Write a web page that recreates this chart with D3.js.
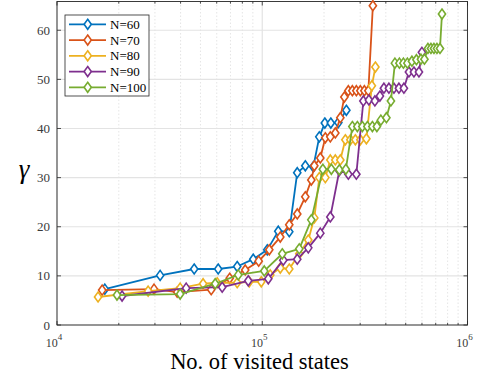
<!DOCTYPE html>
<html>
<head>
<meta charset="utf-8">
<script src="https://cdn.jsdelivr.net/npm/d3@7"></script>
<style>
  html, body { margin: 0; padding: 0; background: #fff; }
  svg { display: block; }
</style>
</head>
<body>
<svg id="chart" width="479" height="379"></svg>
<script>
// Visited states (x) and gamma (y) for each problem size N
const seriesNames = ["N=60", "N=70", "N=80", "N=90", "N=100"];
const seriesColors = ["#0072BD", "#D95319", "#EDB120", "#7E2F8E", "#77AC30"];

const statesN60 = [17100, 31800, 46600, 61000, 75500, 90400, 105800, 119700, 135400, 148100, 162100, 177300, 189700, 201800, 215800, 234800, 256900];
const gammaN60  = [7.3, 10.1, 11.4, 11.4, 11.9, 13.4, 15.3, 19.1, 19.0, 31.0, 32.4, 32.2, 38.3, 41.1, 41.1, 41.2, 43.7];

const statesN70 = [16600, 29700, 38500, 56400, 69400, 82600, 96100, 108200, 122400, 135400, 148100, 162100, 173400, 179300, 191800, 202900, 214600, 227000, 240100, 251200, 262700, 274800, 287400, 300600, 314500, 328900, 345900];
const gammaN70  = [7.1, 7.3, 6.7, 7.2, 9.5, 11.2, 13.0, 15.3, 17.9, 20.4, 22.6, 26.1, 29.5, 32.4, 34.0, 38.1, 38.3, 39.1, 42.2, 46.4, 47.7, 47.7, 47.7, 47.7, 47.7, 47.7, 65.0];

const statesN80 = [15850, 27800, 39800, 51500, 60300, 75500, 86400, 98900, 109400, 122400, 135400, 151500, 167600, 179300, 189700, 202900, 214600, 227000, 240100, 254000, 268700, 284200, 300600, 321600, 342000, 355800];
const gammaN80  = [5.7, 6.9, 7.5, 8.4, 8.6, 8.6, 8.8, 8.8, 10.2, 11.6, 11.4, 14.5, 17.3, 21.8, 30.0, 30.0, 33.6, 33.6, 33.6, 37.7, 37.7, 37.7, 37.7, 37.9, 48.7, 52.5];

const statesN90 = [20750, 42600, 63800, 85500, 107000, 126600, 148100, 167600, 191800, 214600, 237400, 262700, 287400, 310900, 330700, 353800, 374300, 391500, 414100, 438100, 463300, 489900, 518300, 548300, 580000, 599800];
const gammaN90  = [5.9, 7.5, 7.7, 9.0, 9.4, 13.2, 13.4, 15.7, 18.7, 22.0, 31.4, 30.7, 30.7, 45.6, 45.8, 45.6, 46.6, 48.2, 48.2, 48.2, 48.2, 48.2, 51.5, 51.5, 51.5, 55.5];

const statesN100 = [19600, 39800, 59000, 76400, 102300, 125200, 151500, 173400, 197300, 217100, 237400, 255400, 274800, 290600, 307400, 325200, 344000, 361800, 378400, 402600, 423500, 443000, 465900, 487300, 509600, 536100, 563900, 593200, 616900, 641700, 663700, 686500, 710000, 734400, 751000];
const gammaN100  = [6.1, 6.3, 8.4, 10.2, 11.0, 14.5, 15.5, 21.4, 31.7, 31.7, 31.6, 31.7, 40.4, 40.4, 40.4, 40.4, 40.4, 40.4, 41.7, 42.2, 45.6, 53.3, 53.3, 53.3, 53.3, 53.7, 54.0, 54.1, 54.1, 56.3, 56.3, 56.3, 56.3, 56.3, 63.3];

const xTickExponents = [4, 5, 6];
const yTickValues = [0, 10, 20, 30, 40, 50, 60];

const seriesStates = [statesN60, statesN70, statesN80, statesN90, statesN100];
const seriesGamma  = [gammaN60, gammaN70, gammaN80, gammaN90, gammaN100];

(function draw() {
  const series = seriesNames.map((name, i) => ({
    name,
    color: seriesColors[i],
    points: seriesStates[i].map((s, j) => ({ s, g: seriesGamma[i][j] }))
  }));

  const svg = d3.select("#chart");
  const plotLeft = 57, plotRight = 467.5, plotTop = 1.5, plotBottom = 325;

  const x = d3.scaleLog().domain([1e4, 1e6]).range([plotLeft, plotRight]);
  const y = d3.scaleLinear().domain([0, 65.85]).range([plotBottom, plotTop]);

  const serif = "'Liberation Serif', 'Times New Roman', serif";
  const axisColor = "#262626";

  // Minor grid on the log axis (dotted)
  const minorX = [];
  for (let d = 1e4; d < 1e6; d *= 10) {
    for (let m = 2; m <= 9; m++) minorX.push(d * m);
  }
  svg.append("g").selectAll("line").data(minorX).join("line")
    .attr("x1", d => x(d)).attr("x2", d => x(d))
    .attr("y1", plotTop).attr("y2", plotBottom)
    .attr("stroke", "#dedede").attr("stroke-width", 0.8)
    .attr("stroke-dasharray", "1.5,2");

  // Major grid
  svg.append("g").selectAll("line").data(yTickValues).join("line")
    .attr("x1", plotLeft).attr("x2", plotRight)
    .attr("y1", d => y(d)).attr("y2", d => y(d))
    .attr("stroke", "#e3e3e3").attr("stroke-width", 1.2);
  svg.append("g").selectAll("line").data(xTickExponents).join("line")
    .attr("x1", d => x(Math.pow(10, d))).attr("x2", d => x(Math.pow(10, d)))
    .attr("y1", plotTop).attr("y2", plotBottom)
    .attr("stroke", "#e3e3e3").attr("stroke-width", 1.2);

  // Axes box with inward ticks on all sides
  const tickG = svg.append("g").attr("stroke", axisColor).attr("stroke-width", 0.8);
  yTickValues.forEach(v => {
    tickG.append("line").attr("x1", plotLeft).attr("x2", plotLeft + 4).attr("y1", y(v)).attr("y2", y(v));
    tickG.append("line").attr("x1", plotRight).attr("x2", plotRight - 4).attr("y1", y(v)).attr("y2", y(v));
  });
  xTickExponents.forEach(e => {
    const px = x(Math.pow(10, e));
    tickG.append("line").attr("x1", px).attr("x2", px).attr("y1", plotBottom).attr("y2", plotBottom - 4);
    tickG.append("line").attr("x1", px).attr("x2", px).attr("y1", plotTop).attr("y2", plotTop + 4);
  });
  minorX.forEach(v => {
    const px = x(v);
    tickG.append("line").attr("x1", px).attr("x2", px).attr("y1", plotBottom).attr("y2", plotBottom - 2.2);
    tickG.append("line").attr("x1", px).attr("x2", px).attr("y1", plotTop).attr("y2", plotTop + 2.2);
  });
  svg.append("rect")
    .attr("x", plotLeft).attr("y", plotTop)
    .attr("width", plotRight - plotLeft).attr("height", plotBottom - plotTop)
    .attr("fill", "none").attr("stroke", axisColor).attr("stroke-width", 0.9);

  // Tick labels
  svg.append("g").selectAll("text").data(yTickValues).join("text")
    .attr("x", plotLeft - 7).attr("y", d => y(d))
    .attr("dy", "0.35em")
    .attr("text-anchor", "end")
    .attr("font-family", serif).attr("font-size", 13)
    .attr("fill", "#3a3a3a")
    .text(d => d);

  const xl = svg.append("g").selectAll("text").data(xTickExponents).join("text")
    .attr("x", d => x(Math.pow(10, d)) - 3).attr("y", 347)
    .attr("text-anchor", "middle")
    .attr("font-family", serif).attr("font-size", 12)
    .attr("fill", "#3a3a3a");
  xl.append("tspan").text("10");
  xl.append("tspan").attr("dy", -7).attr("font-size", 9).text(d => d);

  // Axis titles
  svg.append("text")
    .attr("x", 259.5).attr("y", 369)
    .attr("text-anchor", "middle")
    .attr("font-family", serif).attr("font-size", 22.5)
    .attr("fill", "#000")
    .text("No. of visited states");

  svg.append("text")
    .attr("x", 24).attr("y", 178)
    .attr("text-anchor", "middle")
    .attr("font-family", serif).attr("font-size", 27)
    .attr("font-style", "italic")
    .attr("fill", "#000")
    .text("γ");

  // Series: lines with open diamond markers
  const diamond = "M0,-5L3.6,0L0,5L-3.6,0Z";
  const line = d3.line().x(d => x(d.s)).y(d => y(d.g));

  series.forEach(sr => {
    const g = svg.append("g");
    g.append("path")
      .attr("d", line(sr.points))
      .attr("fill", "none")
      .attr("stroke", sr.color)
      .attr("stroke-width", 1.8)
      .attr("stroke-linejoin", "round");
    g.selectAll("path.m").data(sr.points).join("path")
      .attr("class", "m")
      .attr("d", diamond)
      .attr("transform", d => `translate(${x(d.s)},${y(d.g)})`)
      .attr("fill", "#fff")
      .attr("stroke", sr.color)
      .attr("stroke-width", 1.6);
  });

  // Legend
  const lg = svg.append("g");
  lg.append("rect")
    .attr("x", 65).attr("y", 15).attr("width", 84).attr("height", 81)
    .attr("fill", "#fff").attr("stroke", axisColor).attr("stroke-width", 0.8);
  series.forEach((sr, i) => {
    const ry = 24.3 + i * 15.75;
    lg.append("line")
      .attr("x1", 69).attr("x2", 106).attr("y1", ry).attr("y2", ry)
      .attr("stroke", sr.color).attr("stroke-width", 1.8);
    lg.append("path")
      .attr("d", diamond)
      .attr("transform", `translate(87.7,${ry})`)
      .attr("fill", "#fff").attr("stroke", sr.color).attr("stroke-width", 1.6);
    lg.append("text")
      .attr("x", 110).attr("y", ry).attr("dy", "0.35em")
      .attr("font-family", serif).attr("font-size", 13)
      .attr("fill", "#000")
      .text(sr.name);
  });
})();
</script>
</body>
</html>
